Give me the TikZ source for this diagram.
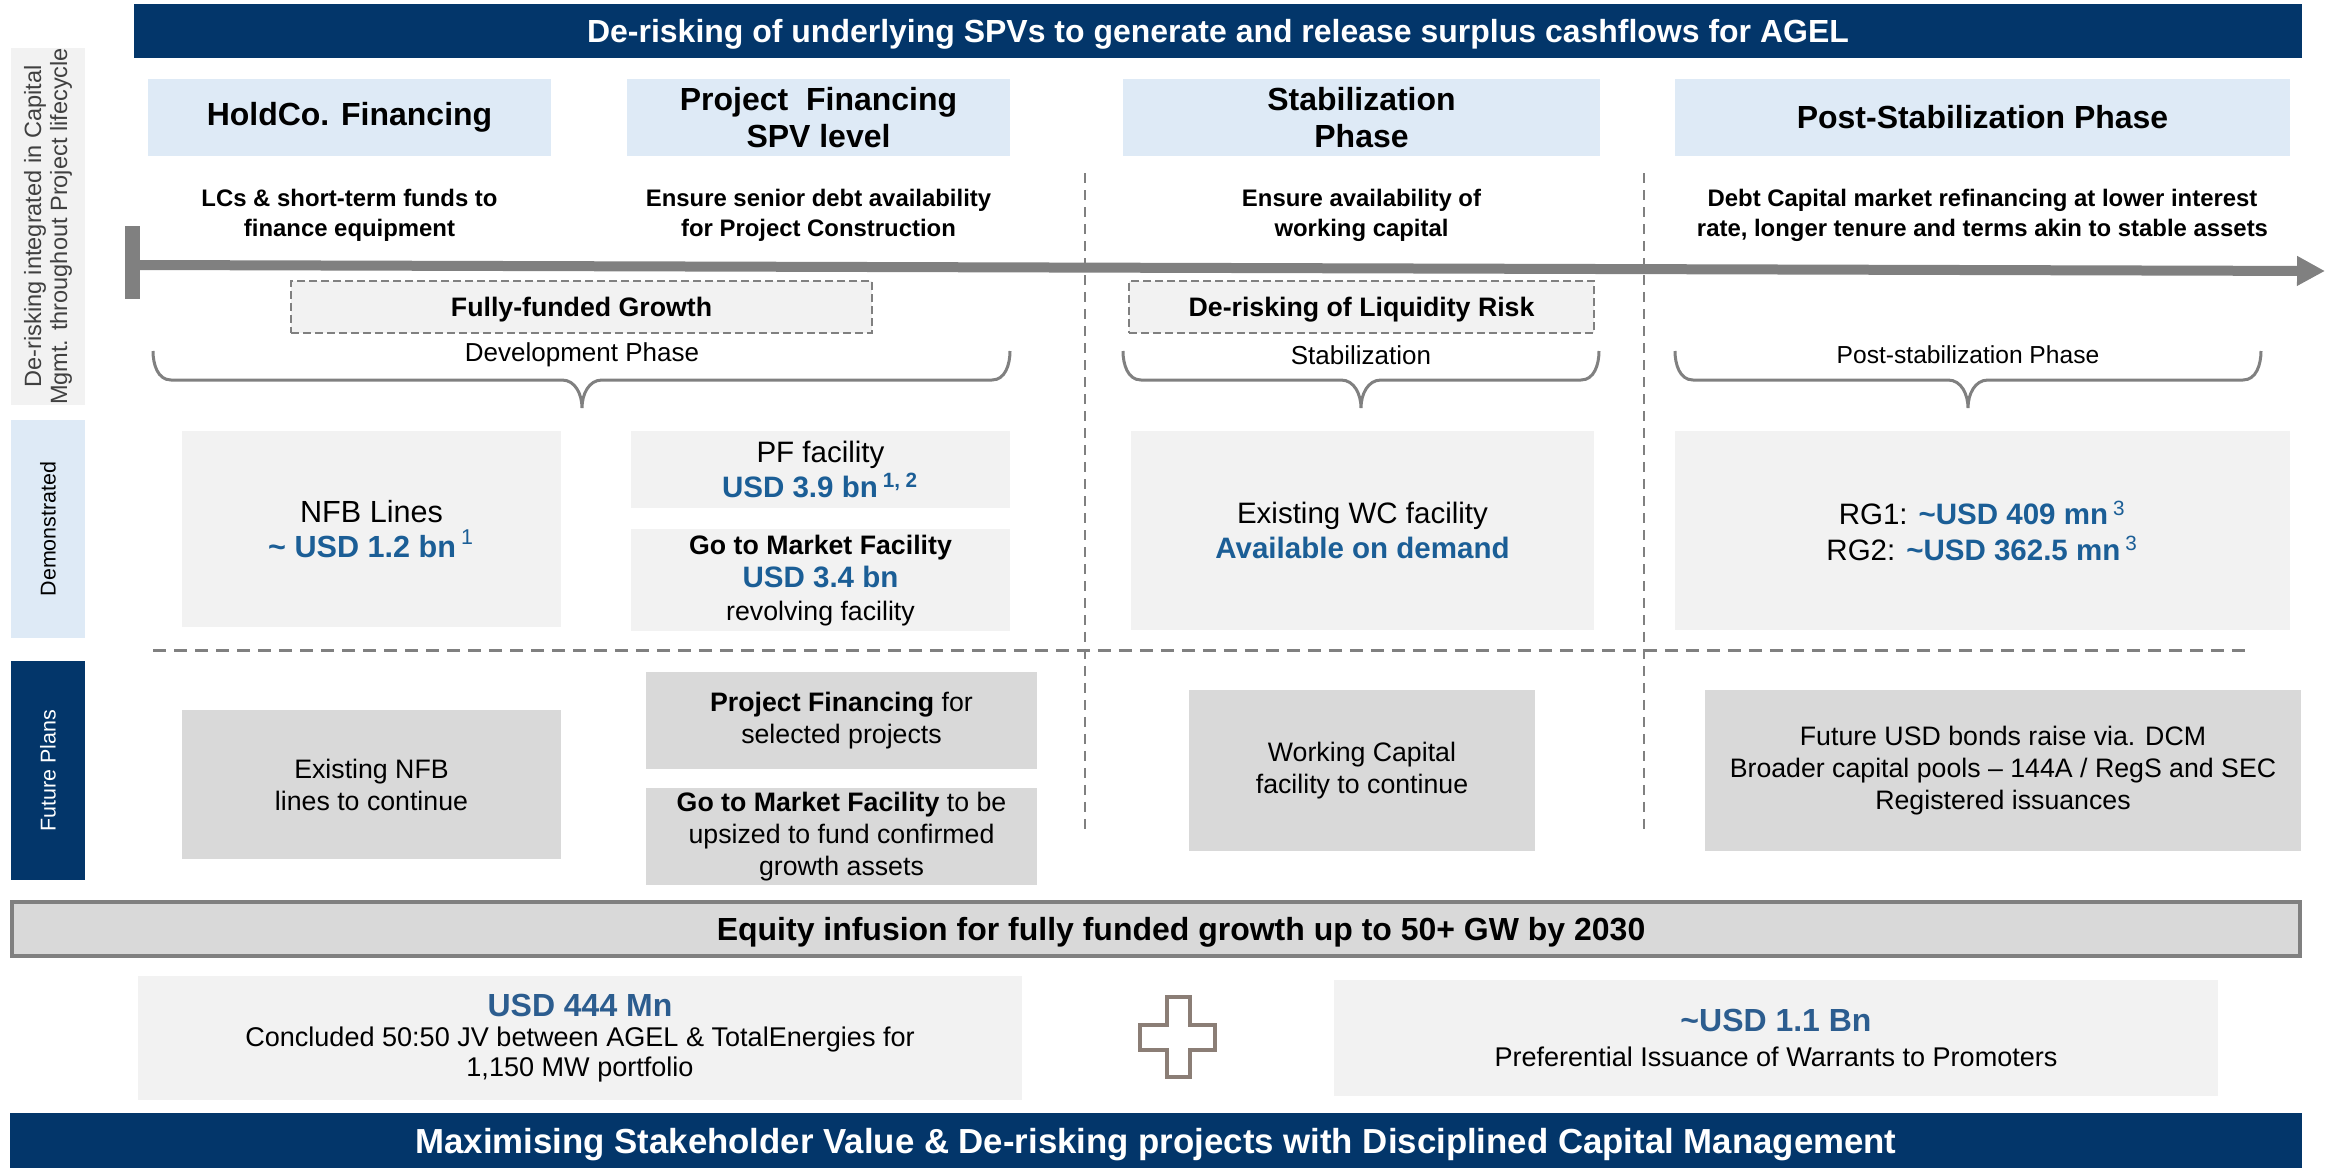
\documentclass[tikz,border=0pt]{standalone}
\usepackage{fontspec}
\setmainfont{Liberation Sans}
\usepackage{tikz}
\usetikzlibrary{arrows.meta,positioning}

\definecolor{navy}{HTML}{03366A}
\definecolor{paleblue}{HTML}{DEEAF6}
\definecolor{boxgray}{HTML}{F2F2F2}
\definecolor{futgray}{HTML}{D9D9D9}
\definecolor{linegray}{HTML}{808080}
\definecolor{usdblue}{HTML}{1B5E96}
\definecolor{eqblue}{HTML}{2C5D8F}
\definecolor{plusbrown}{HTML}{8B7E76}

\newcommand{\usd}[1]{\textcolor{usdblue}{\bfseries #1}}
\newcommand{\refno}[1]{\textcolor{usdblue}{\textsuperscript{#1}}}
\newcommand{\fs}[2]{\fontsize{#1}{#2}\selectfont}

\begin{document}
\begin{tikzpicture}[x=0.1mm,y=-0.1mm,
    every node/.style={inner sep=0pt,align=center},
    banner/.style={fill=navy,text=white,text depth=0pt,font=\fs{9.1}{11}\bfseries},
    head/.style={fill=paleblue,minimum height=7.7mm,font=\fs{9.1}{10.5}\bfseries},
    desc/.style={font=\fs{6.8}{8.5}\bfseries},
    riskbox/.style={fill=boxgray,draw=linegray,line width=0.25mm,dash pattern=on 0.8mm off 0.4mm,
        minimum height=5.2mm,text depth=0pt,font=\fs{7.6}{9}\bfseries},
    phase/.style={font=\fs{7.4}{9}},
    brace/.style={draw=linegray,line width=0.3mm},
    sidelbl/.style={rotate=90,minimum height=7.4mm,font=\fs{6.1}{7.2}},
    demo/.style={fill=boxgray,font=\fs{8.4}{10}},
    plan/.style={fill=futgray,font=\fs{7.6}{9.1}},
    vsplit/.style={draw=linegray,line width=0.2mm,dash pattern=on 1mm off 0.7mm},
    hsplit/.style={draw=linegray,line width=0.3mm,dash pattern=on 1.3mm off 0.8mm}]
    \useasboundingbox (0,0) rectangle (2330,1168);

    \node[banner,minimum width=216.8mm,minimum height=5.4mm] (top) at (1218,31)
        {De-risking of underlying SPVs to generate and release surplus cashflows for AGEL};

    \node[sidelbl,fill=boxgray,text=black!75,minimum width=35.7mm,font=\fs{6.7}{7.4}] (sideA) at (48,226.5)
        {De-risking integrated in Capital\\Mgmt. throughout Project lifecycle};
    \node[sidelbl,fill=paleblue,minimum width=21.8mm] (sideB) at (48,529) {Demonstrated};
    \node[sidelbl,fill=navy,text=white,minimum width=21.9mm] (sideC) at (48,770.5) {Future Plans};

    \node[head,minimum width=40.3mm] (hold) at (349.5,117.5) {HoldCo. Financing};
    \node[head,minimum width=38.3mm] (pfin) at (818.5,117.5) {Project\ \ Financing\\SPV level};
    \node[head,minimum width=47.7mm] (stab) at (1361.5,117.5) {Stabilization\\Phase};
    \node[head,minimum width=61.5mm] (post) at (1982.5,117.5) {Post-Stabilization Phase};

    \node[desc] (holdd) at (349.5,215) {LCs \& short-term funds to\\finance equipment};
    \node[desc] (pfind) at (818.5,215) {Ensure senior debt availability\\for Project Construction};
    \node[desc] (stabd) at (1361.5,215) {Ensure availability of\\working capital};
    \node[desc] (postd) at (1982.5,215) {Debt Capital market refinancing at lower interest\\rate, longer tenure and terms akin to stable assets};

    \draw[vsplit] (1085,173) -- (1085,833);
    \draw[vsplit] (1644,173) -- (1644,833);
    \draw[hsplit] (153,650) -- (2246,650);

    \coordinate (tlA) at (140,265);
    \coordinate (tlB) at (2325,271);
    \draw[linegray,line width=1mm,-{Triangle[length=2.8mm,width=2.8mm]}] (tlA) -- (tlB);
    \draw[linegray,line width=1.5mm] (132.5,226) -- (132.5,299);

    \node[riskbox,minimum width=58.1mm] (growth) at (581.5,307) {Fully-funded Growth};
    \node[riskbox,minimum width=46.5mm] (liq) at (1361.5,307) {De-risking of Liquidity Risk};

    \foreach \l/\r/\m/\t/\f [count=\i] in {153/1010/582/Development Phase/7.4,
        1123/1599/1361/Stabilization/7.4, 1675/2261/1968/Post-stabilization Phase/7.0} {
        \draw[brace] (\l,351) to[out=-90,in=180] (\l+18,380) -- (\m-20,380)
            to[out=0,in=90] (\m,408) to[out=90,in=180] (\m+20,380) -- (\r-18,380)
            to[out=0,in=-90] (\r,351);
        \node[phase,font=\fs{\f}{9}] (ph\i) at (\m,355) {\t};
    }

    \node[demo,minimum width=37.9mm,minimum height=19.6mm,font=\fs{8.7}{10}] (nfb) at (371.5,529)
        {NFB Lines\\\usd{\textasciitilde{} USD 1.2 bn}\,\refno{1}};
    \node[demo,minimum width=37.9mm,minimum height=7.7mm] (pf) at (820.5,469.5)
        {PF facility\\\usd{USD 3.9 bn}\,\refno{\bfseries 1, 2}};
    \node[demo,minimum width=37.9mm,minimum height=10.2mm,font=\fs{7.6}{9.4},below=2mm of pf] (gtm)
        {\textbf{Go to Market Facility}\\{\fs{8.4}{9.4}\usd{USD 3.4 bn}}\\revolving facility};
    \node[demo,minimum width=46.3mm,minimum height=19.9mm] (wc) at (1362.5,530.5)
        {Existing WC facility\\\usd{Available on demand}};
    \node[demo,minimum width=61.5mm,minimum height=19.9mm] (rg) at (1982.5,530.5)
        {RG1: \usd{\textasciitilde USD 409 mn}\,\refno{3}\\RG2: \usd{\textasciitilde USD 362.5 mn}\,\refno{3}};

    \node[plan,minimum width=37.9mm,minimum height=14.9mm] (nfbf) at (371.5,784.5)
        {Existing NFB\\lines to continue};
    \node[plan,minimum width=39.1mm,minimum height=9.7mm] (pff) at (841.5,720.5)
        {\textbf{Project Financing} for\\selected projects};
    \node[plan,minimum width=39.1mm,minimum height=9.7mm,below=1.8mm of pff] (gtmf)
        {\textbf{Go to Market Facility} to be\\upsized to fund confirmed\\growth assets};
    \node[plan,minimum width=34.6mm,minimum height=16.1mm] (wcf) at (1362,770.5)
        {Working Capital\\facility to continue};
    \node[plan,minimum width=59.6mm,minimum height=16.1mm] (bond) at (2003,770.5)
        {Future USD bonds raise via. DCM\\Broader capital pools -- 144A / RegS and SEC\\Registered issuances};

    \node[fill=futgray,draw=linegray,line width=0.35mm,minimum width=228.8mm,minimum height=5.4mm] (eq) at (1156,929) {};
    \node[text depth=0pt,font=\fs{9.1}{10}\bfseries] (eqtxt) at (1181,929)
        {Equity infusion for fully funded growth up to 50+ GW by 2030};

    \node[fill=boxgray,minimum width=88.4mm,minimum height=12.4mm,font=\fs{7.7}{8.6}] (jv) at (580,1038)
        {{\fs{9.1}{10.2}\textcolor{eqblue}{\bfseries USD 444 Mn}}\\Concluded 50:50 JV between AGEL \& TotalEnergies for\\1,150 MW portfolio};
    \draw[plusbrown,line width=0.4mm,fill=white] (1167,997) -- (1190,997) -- (1190,1025) -- (1215,1025)
        -- (1215,1050) -- (1190,1050) -- (1190,1077) -- (1167,1077) -- (1167,1050) -- (1140,1050)
        -- (1140,1025) -- (1167,1025) -- cycle;
    \node[fill=boxgray,minimum width=88.4mm,minimum height=11.6mm,font=\fs{7.7}{9.8}] (warr) at (1776,1038)
        {{\fs{9.1}{9.8}\textcolor{eqblue}{\bfseries \textasciitilde USD 1.1 Bn}}\\Preferential Issuance of Warrants to Promoters};

    \node[banner,minimum width=229.2mm,minimum height=5.5mm,font=\fs{9.9}{11}\bfseries] (bottom) at (1156,1140.5)
        {Maximising Stakeholder Value \& De-risking projects with Disciplined Capital Management};
\end{tikzpicture}
\end{document}
